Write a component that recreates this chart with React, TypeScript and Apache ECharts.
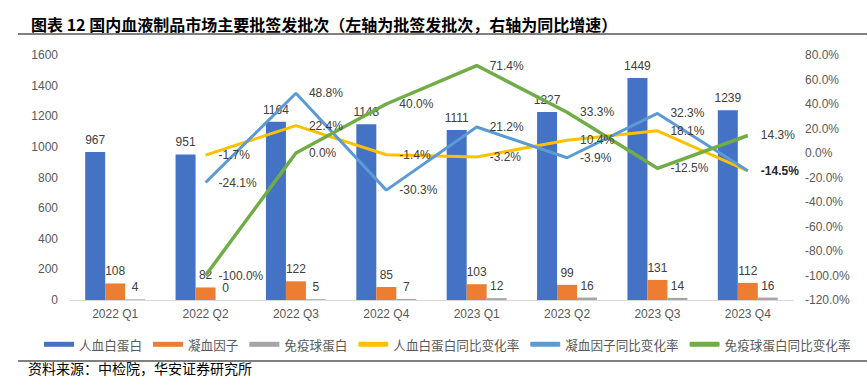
import React, { useEffect, useRef } from "react";
import * as echarts from "echarts";

const categories = ["2022 Q1", "2022 Q2", "2022 Q3", "2022 Q4", "2023 Q1", "2023 Q2", "2023 Q3", "2023 Q4"];
const albumin = [967, 951, 1164, 1148, 1111, 1227, 1449, 1239];
const coagulation = [108, 82, 122, 85, 103, 99, 131, 112];
const immunoglobulin = [4, 0, 5, 7, 12, 16, 14, 16];
const albuminYoY = [null, -1.7, 22.4, -1.4, -3.2, 10.4, 18.1, -14.5];
const coagulationYoY = [null, -24.1, 48.8, -30.3, 21.2, -3.9, 32.3, -14.5];
const immunoglobulinYoY = [null, -100.0, 0.0, 40.0, 71.4, 33.3, -12.5, 14.3];

const FONT = "'Noto Sans CJK SC', 'Noto Sans', sans-serif";
const LABEL_FONT = "'Liberation Sans', Arial, 'Noto Sans CJK SC', sans-serif";

export default function App() {
  const ref = useRef<HTMLDivElement>(null);
  useEffect(() => {
    if (!ref.current) return;
    const chart = echarts.init(ref.current, undefined, { renderer: "svg" });
    const pct = (p: any) => (p.value == null ? "" : Number(p.value).toFixed(1) + "%");
    const lineLabel = {
      show: true,
      position: "right",
      distance: 13,
      fontSize: 12,
      color: "#404040",
      fontFamily: LABEL_FONT,
      formatter: pct,
    };
    const barLabel = {
      show: true,
      position: "top",
      distance: 6,
      fontSize: 12,
      color: "#404040",
      fontFamily: LABEL_FONT,
    };
    const yellowData = albuminYoY.map((v, i) =>
      i === albuminYoY.length - 1 ? { value: v, label: { show: false } } : v
    );
    const blueData = coagulationYoY.map((v, i) =>
      i === coagulationYoY.length - 1
        ? { value: v, label: { fontWeight: "bold", color: "#262626" } }
        : v
    );
    const lineCommon = {
      type: "line",
      yAxisIndex: 1,
      symbol: "circle",
      symbolSize: 0,
      showSymbol: true,
      showAllSymbol: true,
      label: lineLabel,
    };
    chart.setOption({
      animation: false,
      title: {
        text: "图表 12 国内血液制品市场主要批签发批次（左轴为批签发批次，右轴为同比增速）",
        left: 26,
        top: 11,
        textStyle: { fontSize: 16, fontWeight: "bold", color: "#000", fontFamily: FONT },
      },
      graphic: [
        { type: "line", shape: { x1: 18, y1: 34, x2: 867, y2: 34 }, style: { stroke: "#808080", lineWidth: 2 } },
        { type: "line", shape: { x1: 18, y1: 361, x2: 867, y2: 361 }, style: { stroke: "#808080", lineWidth: 2 } },
        {
          type: "text",
          left: 28,
          top: 361,
          style: { text: "资料来源：中检院，华安证券研究所", fontSize: 14, fill: "#000", fontFamily: FONT },
        },
      ],
      legend: {
        left: 39,
        top: 333,
        itemWidth: 30,
        itemHeight: 5,
        itemGap: 11,
        textStyle: { fontSize: 12.6, color: "#595959", fontFamily: FONT },
        data: [
          { name: "人血白蛋白", icon: "rect" },
          { name: "凝血因子", icon: "rect" },
          { name: "免疫球蛋白", icon: "rect" },
          { name: "人血白蛋白同比变化率", icon: "roundRect" },
          { name: "凝血因子同比变化率", icon: "roundRect" },
          { name: "免疫球蛋白同比变化率", icon: "roundRect" },
        ],
      },
      grid: { left: 70, right: 74, top: 55, bottom: 84 },
      xAxis: {
        type: "category",
        data: categories,
        axisLine: { lineStyle: { color: "#D9D9D9", width: 1 } },
        axisTick: { show: false },
        axisLabel: { color: "#595959", fontSize: 12, margin: 8, fontFamily: LABEL_FONT },
      },
      yAxis: [
        {
          type: "value",
          min: 0,
          max: 1600,
          interval: 200,
          splitLine: { show: false },
          axisLine: { show: false },
          axisTick: { show: false },
          axisLabel: {
            color: "#595959",
            fontSize: 12,
            margin: 12,
            fontFamily: LABEL_FONT,
            formatter: (v: number) => String(v),
          },
        },
        {
          type: "value",
          min: -120,
          max: 80,
          interval: 20,
          splitLine: { show: false },
          axisLine: { show: false },
          axisTick: { show: false },
          axisLabel: {
            color: "#595959",
            fontSize: 12,
            margin: 12,
            fontFamily: LABEL_FONT,
            formatter: (v: number) => v.toFixed(1) + "%",
          },
        },
      ],
      series: [
        {
          name: "人血白蛋白",
          type: "bar",
          data: albumin,
          barWidth: 20,
          barGap: "0%",
          itemStyle: { color: "#4472C4" },
          label: barLabel,
        },
        {
          name: "凝血因子",
          type: "bar",
          data: coagulation,
          barWidth: 20,
          barGap: "0%",
          itemStyle: { color: "#ED7D31" },
          label: barLabel,
        },
        {
          name: "免疫球蛋白",
          type: "bar",
          data: immunoglobulin,
          barWidth: 20,
          barGap: "0%",
          itemStyle: { color: "#A5A5A5" },
          label: barLabel,
        },
        {
          ...lineCommon,
          name: "人血白蛋白同比变化率",
          data: yellowData,
          itemStyle: { color: "#FFC000" },
          lineStyle: { color: "#FFC000", width: 3 },
        },
        {
          ...lineCommon,
          name: "凝血因子同比变化率",
          data: blueData,
          itemStyle: { color: "#5B9BD5" },
          lineStyle: { color: "#5B9BD5", width: 3 },
        },
        {
          ...lineCommon,
          name: "免疫球蛋白同比变化率",
          data: immunoglobulinYoY,
          itemStyle: { color: "#70AD47" },
          lineStyle: { color: "#70AD47", width: 3.5 },
        },
      ],
    });
    return () => chart.dispose();
  }, []);
  return <div ref={ref} style={{ width: 867, height: 384, position: "absolute", left: 0, top: 0 }} />;
}
